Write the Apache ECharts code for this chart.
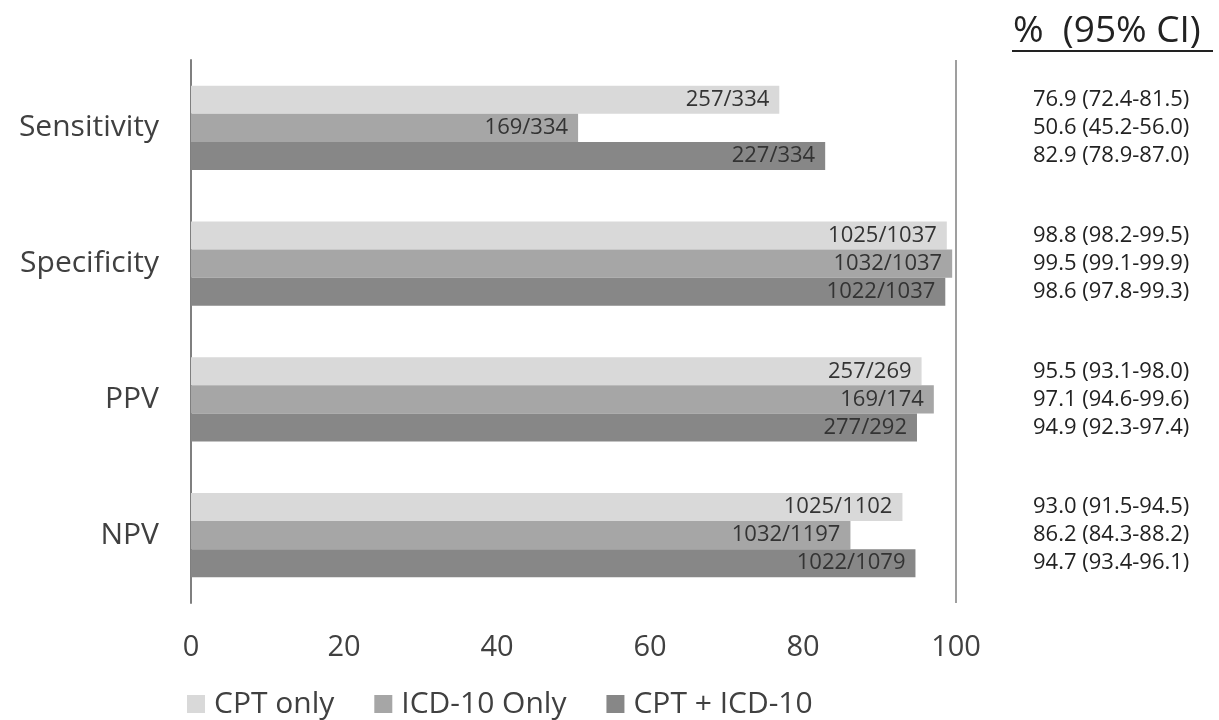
<!DOCTYPE html>
<html>
<head>
<meta charset="utf-8">
<script src="https://cdn.jsdelivr.net/npm/echarts@6/dist/echarts.min.js"></script>
<style>
html,body{margin:0;padding:0;background:#fff;}
#chart{width:1219px;height:720px;}
</style>
</head>
<body>
<div id="chart"></div>
<script>
const categories = ['Sensitivity', 'Specificity', 'PPV', 'NPV'];
const seriesNames = ['CPT only', 'ICD-10 Only', 'CPT + ICD-10'];
const cptOnly = [76.9, 98.8, 95.5, 93.0];
const icdOnly = [50.6, 99.5, 97.1, 86.2];
const cptIcd = [82.9, 98.6, 94.9, 94.7];
const cptOnlyLabels = ['257/334', '1025/1037', '257/269', '1025/1102'];
const icdOnlyLabels = ['169/334', '1032/1037', '169/174', '1032/1197'];
const cptIcdLabels = ['227/334', '1022/1037', '277/292', '1022/1079'];
const cptOnlyCI = ['76.9 (72.4-81.5)', '98.8 (98.2-99.5)', '95.5 (93.1-98.0)', '93.0 (91.5-94.5)'];
const icdOnlyCI = ['50.6 (45.2-56.0)', '99.5 (99.1-99.9)', '97.1 (94.6-99.6)', '86.2 (84.3-88.2)'];
const cptIcdCI = ['82.9 (78.9-87.0)', '98.6 (97.8-99.3)', '94.9 (92.3-97.4)', '94.7 (93.4-96.1)'];
const xTicks = [0, 20, 40, 60, 80, 100];
const ciHeader = '%  (95% CI)';

const FONT = '"Open Sans", sans-serif';
const colors = ['#d9d9d9', '#a6a6a6', '#878787'];
const CAT_GAP = 0.38;

const values = [cptOnly, icdOnly, cptIcd];
const labels = [cptOnlyLabels, icdOnlyLabels, cptIcdLabels];
const cis = [cptOnlyCI, icdOnlyCI, cptIcdCI];

const chart = echarts.init(document.getElementById('chart'), null, {renderer: 'canvas'});

const barSeries = values.map((vals, k) => ({
  name: seriesNames[k],
  type: 'bar',
  data: vals,
  barGap: '0%',
  barCategoryGap: (CAT_GAP * 100) + '%',
  itemStyle: {color: colors[k]},
  label: {
    show: true,
    position: 'insideRight',
    distance: 10,
    formatter: p => labels[k][p.dataIndex],
    fontFamily: FONT,
    fontSize: 22,
    color: '#333333'
  },
  markLine: k === 0 ? {
    silent: true,
    symbol: 'none',
    label: {show: false},
    lineStyle: {color: '#7f7f7f', width: 1.5, type: 'solid'},
    data: [{xAxis: 100}]
  } : undefined
}));

const ciSeries = cis.map((ciArr, k) => ({
  name: 'ci' + k,
  type: 'custom',
  silent: true,
  data: categories.map((c, i) => [100, i]),
  renderItem: (params, api) => {
    const p = api.coord([100, api.value(1)]);
    const band = api.size([0, 1])[1];
    const bh = band * (1 - CAT_GAP) / 3;
    return {
      type: 'text',
      x: p[0] + 77,
      y: p[1] + (k - 1) * bh,
      style: {
        text: ciArr[params.dataIndex],
        fontFamily: FONT,
        fontSize: 22,
        fill: '#222222',
        verticalAlign: 'middle',
        align: 'left'
      }
    };
  }
}));

chart.setOption({
  animation: false,
  backgroundColor: '#ffffff',
  grid: {left: 191, right: 263, top: 60, bottom: 117},
  legend: {
    data: seriesNames,
    left: 182,
    top: 684,
    itemWidth: 18,
    itemHeight: 18,
    itemGap: 40,
    icon: 'rect',
    textStyle: {fontFamily: FONT, fontSize: 30, color: '#404040', padding: [0, 0, 0, 4]}
  },
  xAxis: {
    type: 'value',
    min: xTicks[0],
    max: xTicks[xTicks.length - 1],
    interval: xTicks[1] - xTicks[0],
    axisLine: {show: false},
    axisTick: {show: false},
    splitLine: {show: false},
    axisLabel: {fontFamily: FONT, fontSize: 29, color: '#404040', margin: 30}
  },
  yAxis: {
    type: 'category',
    data: categories,
    inverse: true,
    axisLine: {show: true, lineStyle: {color: '#7f7f7f', width: 2}},
    axisTick: {show: false},
    axisLabel: {fontFamily: FONT, fontSize: 30, color: '#404040', margin: 32}
  },
  graphic: [
    {
      type: 'text',
      x: 1013,
      y: 50,
      style: {text: ciHeader, fontFamily: FONT, fontSize: 37, fill: '#222222', verticalAlign: 'bottom'}
    },
    {
      type: 'line',
      shape: {x1: 1012, y1: 51, x2: 1213, y2: 51},
      style: {stroke: '#222222', lineWidth: 2}
    }
  ],
  series: barSeries.concat(ciSeries)
});
</script>
</body>
</html>
